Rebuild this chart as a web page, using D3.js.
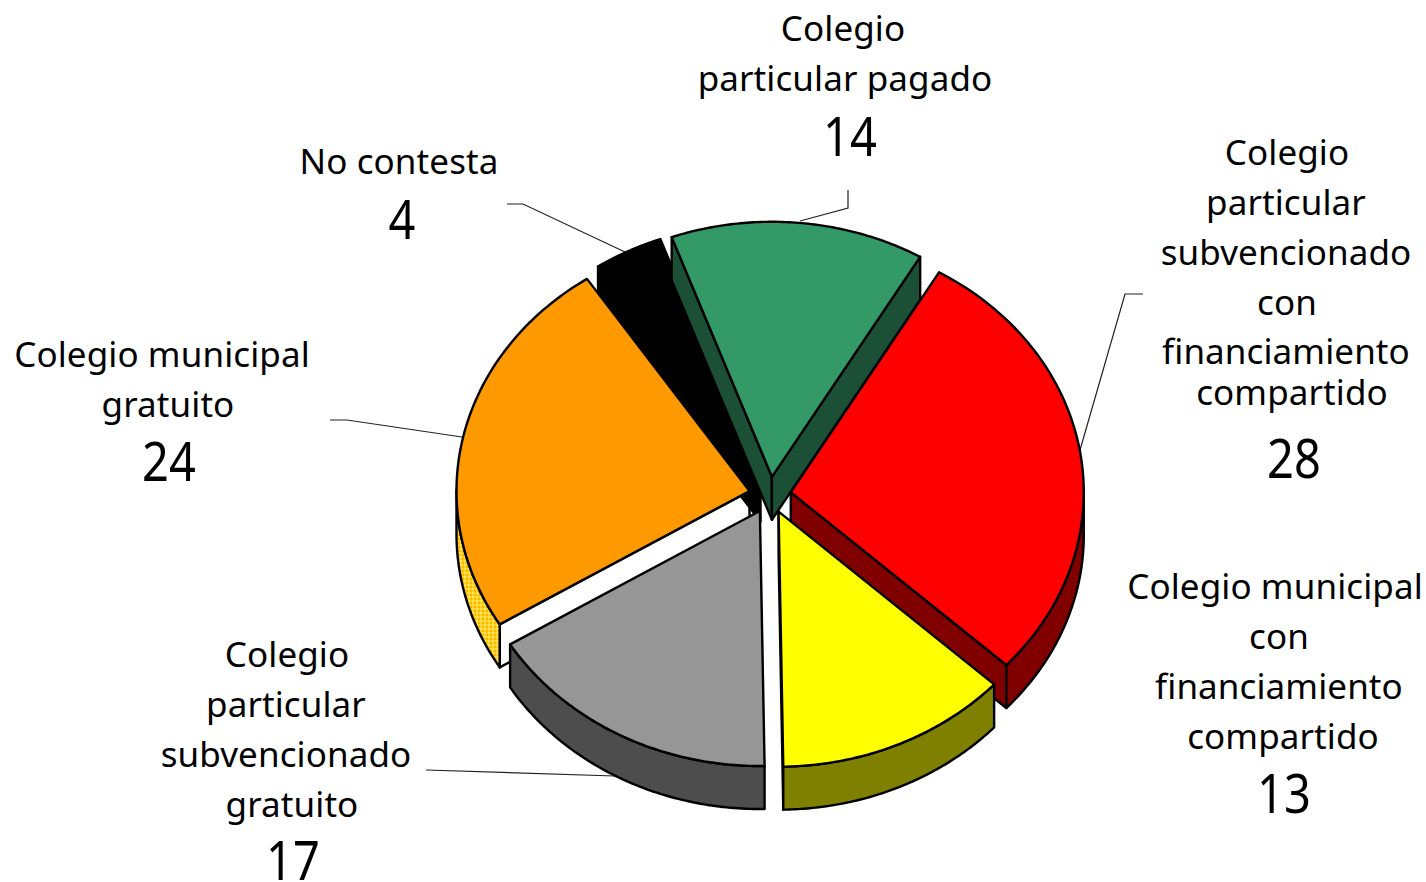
<!DOCTYPE html>
<html><head><meta charset="utf-8">
<script src="https://cdnjs.cloudflare.com/ajax/libs/d3/7.8.5/d3.min.js"></script>
<style>html,body{margin:0;padding:0;background:#fff}svg{display:block}</style></head>
<body><svg id="c" width="1426" height="882"></svg>
<script>
const categories = ["Colegio particular pagado","Colegio particular subvencionado con financiamiento compartido","Colegio municipal con financiamiento compartido","Colegio particular subvencionado gratuito","Colegio municipal gratuito","No contesta"];
const values = [14,28.4,12.9,16.5,24.4,3.8];
const topColors = ["#339966","#ff0000","#ffff00","#969696","#ff9900","#000000"];
const wallColors = ["#1c5036","#800000","#808000","#4d4d4d","url(#gold)","#000000"];
const faceColors = ["#1c5036","#800000","#808000","#4d4d4d","#ffffff","#000000"];
const layers = [[4,"side"],[5,"side"],[5,"top"],[4,"top"],[0,"side"],[0,"top"],[1,"side"],[1,"top"],[2,"side"],[2,"top"],[3,"side"],[3,"top"]];
const labelLines = [
 [["Colegio",843,41],["particular pagado",845,91]],
 [["Colegio",1287,165],["particular",1286,215],["subvencionado",1286,265],["con",1287,315],["financiamiento",1286,364],["compartido",1292,405]],
 [["Colegio municipal",1275,599],["con",1279,649],["financiamiento",1279,699],["compartido",1283,749]],
 [["Colegio",287,667],["particular",286,717],["subvencionado",286,767],["gratuito",292,817]],
 [["Colegio municipal",162,367],["gratuito",168,417]],
 [["No contesta",399,174]]
];
const valuePos = [[850,156],[1294,478],[1284,813],[293,880],[169,481],[402,239]];
const leaders = [
 [[848,190],[848,208],[800,221]],
 [[1143,294],[1125,294],[1080,450]],
 [[426,770],[615,776]],
 [[330,420],[347,420],[462,437]],
 [[507,204],[523,204],[625,252]]
];
const cx=770, cy=495, rx=293, ry=255, explode=21, depth=43;
const svg=d3.select("#c");
const defs=svg.append("defs");
const pat=defs.append("pattern").attr("id","gold").attr("width",4).attr("height",4).attr("patternUnits","userSpaceOnUse");
pat.append("rect").attr("width",4).attr("height",4).attr("fill","#ffd21f");
pat.append("rect").attr("width",2).attr("height",2).attr("fill","#ffe066");
pat.append("rect").attr("x",2).attr("y",2).attr("width",2).attr("height",2).attr("fill","#f5b800");
const line=d3.line();
svg.append("g").selectAll("path").data(leaders).join("path").attr("d",d=>line(d)).attr("fill","none").attr("stroke","#222").attr("stroke-width",1.2);
const startA=-20*Math.PI/180;
const arcs=d3.pie().sort(null).startAngle(startA).endAngle(startA+2*Math.PI)(values);
const F="Noto Sans, sans-serif";
function apex(a){const m=(a.startAngle+a.endAngle)/2;return [cx+explode*Math.sin(m),cy-explode*(ry/rx)*Math.cos(m)];}
function rim(A,t,dz=0){return [A[0]+rx*Math.sin(t),A[1]-ry*Math.cos(t)+dz];}
function samples(a,b,n=80){return d3.range(n+1).map(i=>a+(b-a)*i/n);}
const g=svg.append("g").attr("stroke","#000").attr("stroke-width",2.4).attr("stroke-linejoin","round");
layers.forEach(([i,kind])=>{
  const a=arcs[i],A=apex(a),s=a.startAngle,e=a.endAngle;
  const ts=samples(s,e);
  const sg=g.append("g");
  if(kind==="side"){
    const faces=[];
    if(Math.sin(s)<0) faces.push(s);
    if(Math.sin(e)>0) faces.push(e);
    faces.forEach(t=>{
      const q=[A,rim(A,t),rim(A,t,depth),[A[0],A[1]+depth]];
      sg.append("path").attr("d",line(q)+"Z").attr("fill",faceColors[i]);
    });
    const visible=ts.filter(t=>Math.cos(t)<=0.01);
    if(visible.length>1){
      const w=visible.map(t=>rim(A,t)).concat(visible.slice().reverse().map(t=>rim(A,t,depth)));
      sg.append("path").attr("d",line(w)+"Z").attr("fill",wallColors[i]);
    }
  } else {
    sg.append("path").attr("d",line([A].concat(ts.map(t=>rim(A,t))))+"Z").attr("fill",topColors[i]);
  }
});
const tg=svg.append("g").attr("font-family",F).attr("fill","#000").attr("text-anchor","middle");
labelLines.forEach((ls,i)=>{
  ls.forEach(l=>tg.append("text").attr("x",l[1]).attr("y",l[2]).attr("font-size",35).attr("letter-spacing",0.1).text(l[0]));
  tg.append("text").attr("transform",`translate(${valuePos[i][0]},${valuePos[i][1]}) scale(0.87,1)`).attr("font-size",54).text(Math.round(values[i]));
});
</script></body></html>
